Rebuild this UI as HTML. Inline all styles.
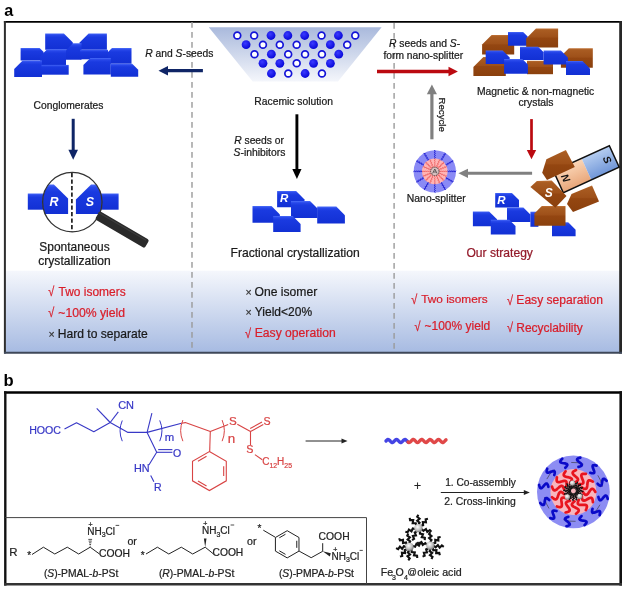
<!DOCTYPE html><html><head><meta charset="utf-8"><style>html,body{margin:0;padding:0;background:#fff;}svg{display:block;will-change:transform;}</style></head><body>
<svg width="626" height="591" viewBox="0 0 626 591" font-family="'Liberation Sans', sans-serif">
<defs>
<linearGradient id="band" x1="0" y1="0" x2="0" y2="1"><stop offset="0" stop-color="#f5f7fc"/><stop offset="1" stop-color="#a7bbe2"/></linearGradient>
<linearGradient id="funnel" x1="0" y1="0" x2="0" y2="1"><stop offset="0" stop-color="#a9b9dc"/><stop offset="1" stop-color="#f4f6fb"/></linearGradient>
<linearGradient id="gb" x1="0" y1="0" x2="0" y2="1"><stop offset="0" stop-color="#4a6cf8"/><stop offset="0.1" stop-color="#2848ea"/><stop offset="0.25" stop-color="#1a3ae0"/><stop offset="1" stop-color="#1230d4"/></linearGradient>
<linearGradient id="gr" x1="0" y1="0" x2="0" y2="1"><stop offset="0" stop-color="#c07236"/><stop offset="0.08" stop-color="#a95c22"/><stop offset="0.45" stop-color="#9e5019"/><stop offset="0.5" stop-color="#944611"/><stop offset="1" stop-color="#8a400d"/></linearGradient>
<radialGradient id="ball" cx="0.4" cy="0.35" r="0.65"><stop offset="0" stop-color="#3a3aff"/><stop offset="1" stop-color="#0808d8"/></radialGradient>
<radialGradient id="gball" cx="0.4" cy="0.35" r="0.7"><stop offset="0" stop-color="#ffffff"/><stop offset="0.6" stop-color="#bbbbbb"/><stop offset="1" stop-color="#6a6a6a"/></radialGradient>
<linearGradient id="handle" x1="0" y1="0" x2="0" y2="1"><stop offset="0" stop-color="#444"/><stop offset="1" stop-color="#111"/></linearGradient>
<linearGradient id="magN" x1="0" y1="0" x2="0" y2="1"><stop offset="0" stop-color="#fbd7b8"/><stop offset="1" stop-color="#e8a67a"/></linearGradient>
<linearGradient id="magS" x1="0" y1="0" x2="0" y2="1"><stop offset="0" stop-color="#b5cdf0"/><stop offset="1" stop-color="#7096d8"/></linearGradient>
</defs>
<text x="4.3" y="15.5" font-size="16.2" font-weight="bold" fill="#000">a</text>
<rect x="5.5" y="270.7" width="614" height="81.5" fill="url(#band)"/>
<line x1="3.9" y1="21.9" x2="622" y2="21.9" stroke="#000" stroke-width="1.7"/>
<line x1="4.9" y1="21" x2="4.9" y2="353.6" stroke="#2e2e2e" stroke-width="2"/>
<line x1="620.6" y1="21" x2="620.6" y2="353.6" stroke="#262626" stroke-width="2.8"/>
<line x1="4" y1="352.7" x2="622" y2="352.7" stroke="#3e4759" stroke-width="1.9"/>
<line x1="192" y1="22" x2="192" y2="352" stroke="#9a9a9a" stroke-width="1.4" stroke-dasharray="5.7 4.3"/>
<line x1="394.1" y1="23" x2="394.1" y2="352" stroke="#9a9a9a" stroke-width="1.4" stroke-dasharray="5.7 4.3"/>
<text x="3.6" y="385.6" font-size="16.6" font-weight="bold" fill="#000">b</text>
<line x1="4" y1="392.5" x2="622" y2="392.5" stroke="#000" stroke-width="2.4"/>
<line x1="5.3" y1="391.3" x2="5.3" y2="585.6" stroke="#111" stroke-width="2.4"/>
<line x1="620.7" y1="391.3" x2="620.7" y2="585.6" stroke="#111" stroke-width="2.6"/>
<line x1="4" y1="584.3" x2="622" y2="584.3" stroke="#333" stroke-width="2.6"/>
<polyline points="5.2,517.6 366.5,517.6 366.5,584" fill="none" stroke="#444" stroke-width="1"/>
<text x="145.28" y="56.90" font-size="10.31" font-weight="normal" font-style="normal" fill="#1a1a1a" stroke="#1a1a1a" stroke-width="0.22" ><tspan font-weight="normal" font-style="italic">R</tspan><tspan font-weight="normal" font-style="normal"> and </tspan><tspan font-weight="normal" font-style="italic">S</tspan><tspan font-weight="normal" font-style="normal">-seeds</tspan></text>
<text x="33.58" y="108.80" font-size="10.31" font-weight="normal" font-style="normal" fill="#1a1a1a" stroke="#1a1a1a" stroke-width="0.22" >Conglomerates</text>
<text x="254.37" y="104.90" font-size="10.32" font-weight="normal" font-style="normal" fill="#1a1a1a" stroke="#1a1a1a" stroke-width="0.22" >Racemic solution</text>
<text x="388.97" y="46.50" font-size="10.34" font-weight="normal" font-style="normal" fill="#1a1a1a" stroke="#1a1a1a" stroke-width="0.22" ><tspan font-weight="normal" font-style="italic">R</tspan><tspan font-weight="normal" font-style="normal"> seeds and </tspan><tspan font-weight="normal" font-style="italic">S</tspan><tspan font-weight="normal" font-style="normal">-</tspan></text>
<text x="383.45" y="58.50" font-size="10.26" font-weight="normal" font-style="normal" fill="#1a1a1a" stroke="#1a1a1a" stroke-width="0.22" >form nano-splitter</text>
<text x="476.97" y="94.50" font-size="10.35" font-weight="normal" font-style="normal" fill="#1a1a1a" stroke="#1a1a1a" stroke-width="0.22" >Magnetic &amp; non-magnetic</text>
<text x="518.38" y="105.70" font-size="10.38" font-weight="normal" font-style="normal" fill="#1a1a1a" stroke="#1a1a1a" stroke-width="0.22" >crystals</text>
<text x="234.17" y="143.90" font-size="10.32" font-weight="normal" font-style="normal" fill="#1a1a1a" stroke="#1a1a1a" stroke-width="0.22" ><tspan font-weight="normal" font-style="italic">R</tspan><tspan font-weight="normal" font-style="normal"> seeds or</tspan></text>
<text x="233.53" y="155.60" font-size="10.37" font-weight="normal" font-style="normal" fill="#1a1a1a" stroke="#1a1a1a" stroke-width="0.22" ><tspan font-weight="normal" font-style="italic">S</tspan><tspan font-weight="normal" font-style="normal">-inhibitors</tspan></text>
<text x="406.87" y="202.00" font-size="10.38" font-weight="normal" font-style="normal" fill="#1a1a1a" stroke="#1a1a1a" stroke-width="0.22" >Nano-splitter</text>
<text x="39.36" y="250.70" font-size="11.95" font-weight="normal" font-style="normal" fill="#1a1a1a" stroke="#1a1a1a" stroke-width="0.22" >Spontaneous</text>
<text x="38.32" y="265.40" font-size="12.06" font-weight="normal" font-style="normal" fill="#1a1a1a" stroke="#1a1a1a" stroke-width="0.22" >crystallization</text>
<text x="230.53" y="257.20" font-size="12.11" font-weight="normal" font-style="normal" fill="#1a1a1a" stroke="#1a1a1a" stroke-width="0.22" >Fractional crystallization</text>
<text x="466.46" y="256.90" font-size="12.08" font-weight="normal" font-style="normal" fill="#931a2a" stroke="#931a2a" stroke-width="0.22" >Our strategy</text>
<text x="0" y="0" font-size="9.6" fill="#1a1a1a" transform="translate(439.2 97.6) rotate(90)" stroke="#1a1a1a" stroke-width="0.22">Recycle</text>
<text x="0" y="0" font-size="11" fill="#d91e2a" transform="translate(48.20 296.10) scale(1 1.2)" stroke="#d91e2a" stroke-width="0.22">√</text>
<text x="58.56" y="295.70" font-size="11.96" font-weight="normal" font-style="normal" fill="#d91e2a" stroke="#d91e2a" stroke-width="0.22" >Two isomers</text>
<text x="0" y="0" font-size="11" fill="#d91e2a" transform="translate(48.20 317.20) scale(1 1.2)" stroke="#d91e2a" stroke-width="0.22">√</text>
<text x="58.25" y="316.80" font-size="12.21" font-weight="normal" font-style="normal" fill="#d91e2a" stroke="#d91e2a" stroke-width="0.22" >~100% yield</text>
<text x="48.50" y="337.50" font-size="10.5" fill="#333" stroke="#333" stroke-width="0.22">×</text>
<text x="57.83" y="337.50" font-size="12.08" font-weight="normal" font-style="normal" fill="#1a1a1a" stroke="#1a1a1a" stroke-width="0.22" >Hard to separate</text>
<text x="245.40" y="295.70" font-size="10.5" fill="#333" stroke="#333" stroke-width="0.22">×</text>
<text x="254.55" y="295.70" font-size="12.13" font-weight="normal" font-style="normal" fill="#1a1a1a" stroke="#1a1a1a" stroke-width="0.22" >One isomer</text>
<text x="245.40" y="316.00" font-size="10.5" fill="#333" stroke="#333" stroke-width="0.22">×</text>
<text x="254.80" y="316.00" font-size="12.00" font-weight="normal" font-style="normal" fill="#1a1a1a" stroke="#1a1a1a" stroke-width="0.22" >Yield&lt;20%</text>
<text x="0" y="0" font-size="11" fill="#d91e2a" transform="translate(245.10 337.50) scale(1 1.2)" stroke="#d91e2a" stroke-width="0.22">√</text>
<text x="254.73" y="337.10" font-size="12.15" font-weight="normal" font-style="normal" fill="#d91e2a" stroke="#d91e2a" stroke-width="0.22" >Easy operation</text>
<text x="0" y="0" font-size="11" fill="#d91e2a" transform="translate(411.30 303.80) scale(1 1.2)" stroke="#d91e2a" stroke-width="0.22">√</text>
<text x="421.26" y="303.40" font-size="11.82" font-weight="normal" font-style="normal" fill="#d91e2a" stroke="#d91e2a" stroke-width="0.22" >Two isomers</text>
<text x="0" y="0" font-size="11" fill="#d91e2a" transform="translate(506.90 304.50) scale(1 1.2)" stroke="#d91e2a" stroke-width="0.22">√</text>
<text x="516.33" y="304.10" font-size="12.09" font-weight="normal" font-style="normal" fill="#d91e2a" stroke="#d91e2a" stroke-width="0.22" >Easy separation</text>
<text x="0" y="0" font-size="11" fill="#d91e2a" transform="translate(414.60 330.70) scale(1 1.2)" stroke="#d91e2a" stroke-width="0.22">√</text>
<text x="424.46" y="330.30" font-size="12.02" font-weight="normal" font-style="normal" fill="#d91e2a" stroke="#d91e2a" stroke-width="0.22" >~100% yield</text>
<text x="0" y="0" font-size="11" fill="#d91e2a" transform="translate(506.90 332.40) scale(1 1.2)" stroke="#d91e2a" stroke-width="0.22">√</text>
<text x="516.34" y="332.00" font-size="11.96" font-weight="normal" font-style="normal" fill="#d91e2a" stroke="#d91e2a" stroke-width="0.22" >Recyclability</text>
<polygon points="45.2,49.8 45.2,33.4 63.9,33.4 72.9,42.4 72.9,49.8" fill="url(#gb)"/>
<polygon points="79.6,49.8 79.6,42.4 88.6,33.4 106.9,33.4 106.9,49.8" fill="url(#gb)"/>
<polygon points="64.5,59.8 64.5,51.8 73.0,43.3 81.5,43.3 81.5,59.8" fill="url(#gb)"/>
<polygon points="20.6,60.4 20.6,48.1 39.6,48.1 43.6,52.1 43.6,60.4" fill="url(#gb)"/>
<polygon points="108.0,63.8 108.0,52.1 112.0,48.1 131.5,48.1 131.5,63.8" fill="url(#gb)"/>
<polygon points="40.2,64.9 40.2,56.3 47.2,49.3 66.0,49.3 66.0,64.9" fill="url(#gb)"/>
<polygon points="80.1,59.3 80.1,49.8 108.0,49.8 108.0,59.3" fill="url(#gb)"/>
<polygon points="83.4,74.4 83.4,65.0 90.4,58.0 110.8,58.0 110.8,74.4" fill="url(#gb)"/>
<polygon points="14.2,77.0 14.2,68.9 22.7,60.4 42.0,60.4 42.0,77.0" fill="url(#gb)"/>
<polygon points="41.5,74.7 41.5,64.9 68.7,64.9 68.7,74.7" fill="url(#gb)"/>
<polygon points="110.8,76.7 110.8,63.8 132.2,63.8 138.2,69.8 138.2,76.7" fill="url(#gb)"/>
<polygon points="208.8,27.2 381.6,27.2 338,81.5 252.7,81.5" fill="url(#funnel)"/>
<circle cx="237.30" cy="35.5" r="3.4" fill="#fff" stroke="#1414d8" stroke-width="1.7"/>
<circle cx="254.15" cy="35.5" r="3.4" fill="#fff" stroke="#1414d8" stroke-width="1.7"/>
<circle cx="271.00" cy="35.5" r="4.4" fill="url(#ball)"/>
<circle cx="287.85" cy="35.5" r="4.4" fill="url(#ball)"/>
<circle cx="304.70" cy="35.5" r="4.4" fill="url(#ball)"/>
<circle cx="321.55" cy="35.5" r="3.4" fill="#fff" stroke="#1414d8" stroke-width="1.7"/>
<circle cx="338.40" cy="35.5" r="4.4" fill="url(#ball)"/>
<circle cx="355.25" cy="35.5" r="3.4" fill="#fff" stroke="#1414d8" stroke-width="1.7"/>
<circle cx="246.10" cy="44.7" r="4.4" fill="url(#ball)"/>
<circle cx="262.95" cy="44.7" r="3.4" fill="#fff" stroke="#1414d8" stroke-width="1.7"/>
<circle cx="279.80" cy="44.7" r="3.4" fill="#fff" stroke="#1414d8" stroke-width="1.7"/>
<circle cx="296.65" cy="44.7" r="3.4" fill="#fff" stroke="#1414d8" stroke-width="1.7"/>
<circle cx="313.50" cy="44.7" r="4.4" fill="url(#ball)"/>
<circle cx="330.35" cy="44.7" r="4.4" fill="url(#ball)"/>
<circle cx="347.20" cy="44.7" r="3.4" fill="#fff" stroke="#1414d8" stroke-width="1.7"/>
<circle cx="254.50" cy="54.2" r="3.4" fill="#fff" stroke="#1414d8" stroke-width="1.7"/>
<circle cx="271.35" cy="54.2" r="4.4" fill="url(#ball)"/>
<circle cx="288.20" cy="54.2" r="3.4" fill="#fff" stroke="#1414d8" stroke-width="1.7"/>
<circle cx="305.05" cy="54.2" r="3.4" fill="#fff" stroke="#1414d8" stroke-width="1.7"/>
<circle cx="321.90" cy="54.2" r="3.4" fill="#fff" stroke="#1414d8" stroke-width="1.7"/>
<circle cx="338.75" cy="54.2" r="4.4" fill="url(#ball)"/>
<circle cx="263.00" cy="63.3" r="4.4" fill="url(#ball)"/>
<circle cx="279.85" cy="63.3" r="4.4" fill="url(#ball)"/>
<circle cx="296.70" cy="63.3" r="3.4" fill="#fff" stroke="#1414d8" stroke-width="1.7"/>
<circle cx="313.55" cy="63.3" r="4.4" fill="url(#ball)"/>
<circle cx="330.40" cy="63.3" r="4.4" fill="url(#ball)"/>
<circle cx="271.40" cy="73.5" r="4.4" fill="url(#ball)"/>
<circle cx="288.25" cy="73.5" r="3.4" fill="#fff" stroke="#1414d8" stroke-width="1.7"/>
<circle cx="305.10" cy="73.5" r="4.4" fill="url(#ball)"/>
<circle cx="321.95" cy="73.5" r="3.4" fill="#fff" stroke="#1414d8" stroke-width="1.7"/>
<polygon points="482.1,54.6 482.1,44.6 491.6,35.1 514.2,35.1 514.2,54.6" fill="url(#gr)"/>
<polygon points="508.0,45.7 508.0,31.9 523.1,31.9 527.6,36.4 527.6,45.7" fill="url(#gb)"/>
<polygon points="526.2,47.4 526.2,38.4 536.0,28.6 558.1,28.6 558.1,47.4" fill="url(#gr)"/>
<polygon points="560.9,67.8 560.9,56.3 568.9,48.3 592.8,48.3 592.8,67.8" fill="url(#gr)"/>
<polygon points="520.0,60.1 520.0,46.7 538.1,46.7 543.6,52.2 543.6,60.1" fill="url(#gb)"/>
<polygon points="473.4,75.9 473.4,66.9 483.4,56.9 505.8,56.9 505.8,75.9" fill="url(#gr)"/>
<polygon points="485.7,64.1 485.7,50.5 502.7,50.5 509.7,57.5 509.7,64.1" fill="url(#gb)"/>
<polygon points="527.0,74.2 527.0,60.8 553.0,60.8 553.0,74.2" fill="url(#gr)"/>
<polygon points="543.6,64.6 543.6,50.6 560.9,50.6 567.9,57.6 567.9,64.6" fill="url(#gb)"/>
<polygon points="504.1,73.7 504.1,59.1 522.4,59.1 527.9,64.6 527.9,73.7" fill="url(#gb)"/>
<polygon points="566.0,75.1 566.0,61.0 582.5,61.0 590.0,68.5 590.0,75.1" fill="url(#gb)"/>
<rect x="27.8" y="193.5" width="20" height="16.2" fill="url(#gb)"/>
<rect x="97" y="193.5" width="21.6" height="16.2" fill="url(#gb)"/>
<clipPath id="mag"><circle cx="72.3" cy="202.1" r="29.7"/></clipPath>
<circle cx="72.3" cy="202.1" r="29.7" fill="#fff"/>
<g clip-path="url(#mag)">
<polygon points="38.0,213.9 38.0,184.4 53.9,184.4 68.1,198.6 68.1,213.9" fill="url(#gb)"/>
<polygon points="75.9,213.9 75.9,199.6 91.1,184.4 105.9,184.4 105.9,213.9" fill="url(#gb)"/>
</g>
<text x="54" y="206.2" font-size="12.5" font-weight="bold" font-style="italic" fill="#fff" text-anchor="middle">R</text>
<text x="89.8" y="206.2" font-size="12.5" font-weight="bold" font-style="italic" fill="#fff" text-anchor="middle">S</text>
<line x1="71.9" y1="173" x2="71.9" y2="232" stroke="#111" stroke-width="1.6" stroke-dasharray="4.2 2.3"/>
<circle cx="72.3" cy="202.1" r="29.7" fill="none" stroke="#333" stroke-width="1.3"/>
<rect x="0" y="-4.75" width="57.5" height="9.5" rx="2" fill="#2a2a2a" transform="translate(97.3 215.2) rotate(30.3)"/>
<line x1="98.5" y1="212.6" x2="146" y2="240.3" stroke="#3c3c3c" stroke-width="1.2"/>
<polygon points="277.1,207.2 277.1,191.0 296.1,191.0 304.5,199.4 304.5,207.2" fill="url(#gb)"/>
<polygon points="291.0,218.1 291.0,201.1 310.0,201.1 317.5,208.6 317.5,218.1" fill="url(#gb)"/>
<polygon points="252.5,222.7 252.5,206.1 271.5,206.1 279.9,214.5 279.9,222.7" fill="url(#gb)"/>
<polygon points="317.2,223.4 317.2,206.6 336.3,206.6 344.9,215.2 344.9,223.4" fill="url(#gb)"/>
<polygon points="273.2,232.1 273.2,216.0 292.7,216.0 300.6,223.9 300.6,232.1" fill="url(#gb)"/>
<text x="280" y="201.8" font-size="11.5" font-weight="bold" font-style="italic" fill="#fff">R</text>
<polygon points="495.2,207.5 495.2,192.9 511.9,192.9 519.0,200.0 519.0,207.5" fill="url(#gb)"/>
<polygon points="507.0,221.9 507.0,207.5 523.4,207.5 530.4,214.5 530.4,221.9" fill="url(#gb)"/>
<polygon points="530.4,226.8 530.4,211.7 538.4,211.7 538.4,226.8" fill="url(#gb)"/>
<polygon points="472.9,226.3 472.9,211.4 489.1,211.4 497.0,219.3 497.0,226.3" fill="url(#gb)"/>
<polygon points="490.8,234.6 490.8,219.8 509.3,219.8 515.5,226.0 515.5,234.6" fill="url(#gb)"/>
<polygon points="552.0,236.3 552.0,222.3 568.2,222.3 575.6,229.7 575.6,236.3" fill="url(#gb)"/>
<text x="497.3" y="203.5" font-size="11.5" font-weight="bold" font-style="italic" fill="#fff">R</text>
<polygon points="534.4,225.8 534.4,213.5 541.8,206.1 565.5,206.1 565.5,225.8" fill="url(#gr)"/>
<polygon points="567,204 571.5,194 592,185.5 599,201.5 573,212" fill="url(#gr)"/>
<g transform="translate(558.4 181.9) rotate(-24.5)"><rect x="0" y="-11.85" width="30.8" height="23.7" fill="url(#magN)"/><rect x="30.8" y="-11.85" width="30.6" height="23.7" fill="url(#magS)"/><rect x="0" y="-11.85" width="61.4" height="23.7" fill="none" stroke="#111" stroke-width="1.5"/><text x="54" y="0" font-size="10.5" font-weight="bold" font-style="italic" fill="#111" text-anchor="middle" dominant-baseline="central" transform="rotate(90 54 0)">S</text><text x="8" y="0" font-size="10.5" font-weight="bold" font-style="italic" fill="#111" text-anchor="middle" dominant-baseline="central" transform="rotate(90 8.5 0)">N</text></g>
<polygon points="542.2,172.8 546.4,159.2 565.9,150 574.8,166.9 547,180" fill="url(#gr)"/>
<polygon points="530.4,187.1 536.9,181.1 551.7,180.5 566.5,196 555.3,207.8" fill="url(#gr)"/>
<text x="548.7" y="197.3" font-size="12" font-weight="bold" font-style="italic" fill="#fff" text-anchor="middle">S</text>
<circle cx="434.8" cy="171.4" r="21.2" fill="#8a8af5"/>
<circle cx="434.8" cy="171.4" r="12.8" fill="#ffb4b4"/>
<polyline points="434.10,158.60 435.50,157.55 434.10,156.50 435.50,155.45 434.10,154.40 435.50,153.35 434.10,152.30 435.50,151.25 434.10,150.20" fill="none" stroke="#2020d0" stroke-width="0.9"/>
<polyline points="440.59,159.96 442.33,159.76 441.64,158.15 443.38,157.94 442.69,156.33 444.43,156.12 443.74,154.51 445.48,154.30 444.79,152.69" fill="none" stroke="#2020d0" stroke-width="0.9"/>
<polyline points="445.54,164.39 447.14,165.08 447.35,163.34 448.96,164.03 449.17,162.29 450.78,162.98 450.99,161.24 452.60,161.93 452.81,160.19" fill="none" stroke="#2020d0" stroke-width="0.9"/>
<polyline points="447.60,170.70 448.65,172.10 449.70,170.70 450.75,172.10 451.80,170.70 452.85,172.10 453.90,170.70 454.95,172.10 456.00,170.70" fill="none" stroke="#2020d0" stroke-width="0.9"/>
<polyline points="446.24,177.19 446.44,178.93 448.05,178.24 448.26,179.98 449.87,179.29 450.08,181.03 451.69,180.34 451.90,182.08 453.51,181.39" fill="none" stroke="#2020d0" stroke-width="0.9"/>
<polyline points="441.81,182.14 441.12,183.74 442.86,183.95 442.17,185.56 443.91,185.77 443.22,187.38 444.96,187.59 444.27,189.20 446.01,189.41" fill="none" stroke="#2020d0" stroke-width="0.9"/>
<polyline points="435.50,184.20 434.10,185.25 435.50,186.30 434.10,187.35 435.50,188.40 434.10,189.45 435.50,190.50 434.10,191.55 435.50,192.60" fill="none" stroke="#2020d0" stroke-width="0.9"/>
<polyline points="429.01,182.84 427.27,183.04 427.96,184.65 426.22,184.86 426.91,186.47 425.17,186.68 425.86,188.29 424.12,188.50 424.81,190.11" fill="none" stroke="#2020d0" stroke-width="0.9"/>
<polyline points="424.06,178.41 422.46,177.72 422.25,179.46 420.64,178.77 420.43,180.51 418.82,179.82 418.61,181.56 417.00,180.87 416.79,182.61" fill="none" stroke="#2020d0" stroke-width="0.9"/>
<polyline points="422.00,172.10 420.95,170.70 419.90,172.10 418.85,170.70 417.80,172.10 416.75,170.70 415.70,172.10 414.65,170.70 413.60,172.10" fill="none" stroke="#2020d0" stroke-width="0.9"/>
<polyline points="423.36,165.61 423.16,163.87 421.55,164.56 421.34,162.82 419.73,163.51 419.52,161.77 417.91,162.46 417.70,160.72 416.09,161.41" fill="none" stroke="#2020d0" stroke-width="0.9"/>
<polyline points="427.79,160.66 428.48,159.06 426.74,158.85 427.43,157.24 425.69,157.03 426.38,155.42 424.64,155.21 425.33,153.60 423.59,153.39" fill="none" stroke="#2020d0" stroke-width="0.9"/>
<polyline points="439.00,170.80 440.07,172.00 441.15,170.80 442.23,172.00 443.30,170.80 444.38,172.00 445.45,170.80 446.53,172.00 447.60,170.80" fill="none" stroke="#e85050" stroke-width="0.7"/>
<polyline points="438.91,172.45 439.44,173.97 440.90,173.28 441.43,174.80 442.88,174.10 443.42,175.62 444.87,174.92 445.40,176.44 446.86,175.74" fill="none" stroke="#e85050" stroke-width="0.7"/>
<polyline points="438.19,173.95 438.11,175.55 439.71,175.47 439.63,177.07 441.23,176.99 441.15,178.59 442.75,178.51 442.67,180.12 444.28,180.03" fill="none" stroke="#e85050" stroke-width="0.7"/>
<polyline points="436.96,175.05 436.26,176.50 437.78,177.04 437.09,178.49 438.61,179.02 437.91,180.48 439.43,181.01 438.73,182.46 440.25,183.00" fill="none" stroke="#e85050" stroke-width="0.7"/>
<polyline points="435.40,175.60 434.20,176.68 435.40,177.75 434.20,178.83 435.40,179.90 434.20,180.97 435.40,182.05 434.20,183.12 435.40,184.20" fill="none" stroke="#e85050" stroke-width="0.7"/>
<polyline points="433.75,175.51 432.23,176.04 432.92,177.50 431.40,178.03 432.10,179.48 430.58,180.02 431.28,181.47 429.76,182.00 430.46,183.46" fill="none" stroke="#e85050" stroke-width="0.7"/>
<polyline points="432.25,174.79 430.65,174.71 430.73,176.31 429.13,176.23 429.21,177.83 427.61,177.75 427.69,179.35 426.08,179.27 426.17,180.88" fill="none" stroke="#e85050" stroke-width="0.7"/>
<polyline points="431.15,173.56 429.70,172.86 429.16,174.38 427.71,173.69 427.18,175.21 425.72,174.51 425.19,176.03 423.74,175.33 423.20,176.85" fill="none" stroke="#e85050" stroke-width="0.7"/>
<polyline points="430.60,172.00 429.53,170.80 428.45,172.00 427.38,170.80 426.30,172.00 425.23,170.80 424.15,172.00 423.07,170.80 422.00,172.00" fill="none" stroke="#e85050" stroke-width="0.7"/>
<polyline points="430.69,170.35 430.16,168.83 428.70,169.52 428.17,168.00 426.72,168.70 426.18,167.18 424.73,167.88 424.20,166.36 422.74,167.06" fill="none" stroke="#e85050" stroke-width="0.7"/>
<polyline points="431.41,168.85 431.49,167.25 429.89,167.33 429.97,165.73 428.37,165.81 428.45,164.21 426.85,164.29 426.93,162.68 425.32,162.77" fill="none" stroke="#e85050" stroke-width="0.7"/>
<polyline points="432.64,167.75 433.34,166.30 431.82,165.76 432.51,164.31 430.99,163.78 431.69,162.32 430.17,161.79 430.87,160.34 429.35,159.80" fill="none" stroke="#e85050" stroke-width="0.7"/>
<polyline points="434.20,167.20 435.40,166.12 434.20,165.05 435.40,163.97 434.20,162.90 435.40,161.83 434.20,160.75 435.40,159.68 434.20,158.60" fill="none" stroke="#e85050" stroke-width="0.7"/>
<polyline points="435.85,167.29 437.37,166.76 436.68,165.30 438.20,164.77 437.50,163.32 439.02,162.78 438.32,161.33 439.84,160.80 439.14,159.34" fill="none" stroke="#e85050" stroke-width="0.7"/>
<polyline points="437.35,168.01 438.95,168.09 438.87,166.49 440.47,166.57 440.39,164.97 441.99,165.05 441.91,163.45 443.52,163.53 443.43,161.92" fill="none" stroke="#e85050" stroke-width="0.7"/>
<polyline points="438.45,169.24 439.90,169.94 440.44,168.42 441.89,169.11 442.42,167.59 443.88,168.29 444.41,166.77 445.86,167.47 446.40,165.95" fill="none" stroke="#e85050" stroke-width="0.7"/>
<circle cx="434.8" cy="171.4" r="4.2" fill="#d8c0c0" stroke="#333" stroke-width="0.9" stroke-dasharray="1.2 0.8"/>
<path d="M432.6,173.4 L434.8,169.0 L437.0,173.4 M433.6,172.0 L436.0,172.0" fill="none" stroke="#444" stroke-width="0.8"/>
<line x1="202.90" y1="70.70" x2="167.50" y2="70.70" stroke="#0f2566" stroke-width="3.2"/>
<polygon points="158.50,70.70 168.00,65.95 168.00,75.45" fill="#0f2566"/>
<line x1="73.20" y1="118.80" x2="73.20" y2="150.30" stroke="#0f2566" stroke-width="3"/>
<polygon points="73.20,159.80 68.40,149.80 78.00,149.80" fill="#0f2566"/>
<line x1="296.90" y1="114.30" x2="296.90" y2="169.60" stroke="#000" stroke-width="2.9"/>
<polygon points="296.90,178.90 292.30,169.10 301.50,169.10" fill="#000"/>
<line x1="377.00" y1="71.50" x2="449.00" y2="71.50" stroke="#bb0a10" stroke-width="3.3"/>
<polygon points="457.90,71.50 448.50,76.25 448.50,66.75" fill="#bb0a10"/>
<line x1="531.50" y1="119.10" x2="531.50" y2="150.50" stroke="#bb0a10" stroke-width="2.7"/>
<polygon points="531.50,159.30 526.80,150.00 536.20,150.00" fill="#bb0a10"/>
<line x1="532.10" y1="173.30" x2="467.50" y2="173.30" stroke="#808080" stroke-width="3.0"/>
<polygon points="458.40,173.30 468.00,168.70 468.00,177.90" fill="#808080"/>
<line x1="431.90" y1="139.30" x2="431.90" y2="93.80" stroke="#808080" stroke-width="3.2"/>
<polygon points="431.90,84.40 436.95,94.30 426.85,94.30" fill="#808080"/>
<text x="29.15" y="433.70" font-size="10.61" font-weight="normal" font-style="normal" fill="#3838c6" stroke="#3838c6" stroke-width="0.22" >HOOC</text>
<polyline points="64.5,429.1 76.5,422.8 93.8,431.8 110.2,422.5 128,432.4 147.1,432.4 181.5,423.2" fill="none" stroke="#3838c6" stroke-width="1.1" stroke-linejoin="round"/>
<polyline points="110.2,422.5 96.7,408.4" fill="none" stroke="#3838c6" stroke-width="1.1" stroke-linejoin="round"/>
<polyline points="110.2,422.5 118.3,411.8" fill="none" stroke="#3838c6" stroke-width="1.1" stroke-linejoin="round"/>
<text x="118.15" y="408.80" font-size="10.99" font-weight="normal" font-style="normal" fill="#3838c6" stroke="#3838c6" stroke-width="0.22" >CN</text>
<path d="M122.28,420.5 Q117.80,430.85 122.28,441.2" fill="none" stroke="#3838c6" stroke-width="1"/>
<path d="M159.72,420.4 Q164.20,430.80 159.72,441.2" fill="none" stroke="#3838c6" stroke-width="1"/>
<text x="164.76" y="441.20" font-size="11.35" font-weight="normal" font-style="normal" fill="#3838c6" stroke="#3838c6" stroke-width="0.22" >m</text>
<polyline points="147.1,432.4 151.9,413.2" fill="none" stroke="#3838c6" stroke-width="1.1" stroke-linejoin="round"/>
<polyline points="147.1,432.4 156.7,452.3 148.9,465" fill="none" stroke="#3838c6" stroke-width="1.1" stroke-linejoin="round"/>
<polyline points="156.7,452.3 172.4,452.3" fill="none" stroke="#3838c6" stroke-width="1.1" stroke-linejoin="round"/>
<polyline points="158.2,449.6 172.4,449.6" fill="none" stroke="#3838c6" stroke-width="1.1" stroke-linejoin="round"/>
<text x="173.03" y="456.70" font-size="10.51" font-weight="normal" font-style="normal" fill="#3838c6" stroke="#3838c6" stroke-width="0.22" >O</text>
<text x="133.93" y="471.50" font-size="10.86" font-weight="normal" font-style="normal" fill="#3838c6" stroke="#3838c6" stroke-width="0.22" >HN</text>
<polyline points="150.7,475.4 153.9,481.8" fill="none" stroke="#3838c6" stroke-width="1.1" stroke-linejoin="round"/>
<text x="153.95" y="491.00" font-size="10.59" font-weight="normal" font-style="normal" fill="#3838c6" stroke="#3838c6" stroke-width="0.22" >R</text>
<polyline points="181.5,423.2 185.3,422.6 210.3,431.6 228.2,424.6" fill="none" stroke="#d84444" stroke-width="1.1" stroke-linejoin="round"/>
<path d="M182.88,420.1 Q178.40,430.65 182.88,441.2" fill="none" stroke="#d84444" stroke-width="1"/>
<path d="M222.12,420.1 Q226.60,430.65 222.12,441.2" fill="none" stroke="#d84444" stroke-width="1"/>
<text x="227.63" y="442.60" font-size="13.41" font-weight="normal" font-style="normal" fill="#d84444" stroke="#d84444" stroke-width="0.22" >n</text>
<text x="228.88" y="424.50" font-size="11.65" font-weight="normal" font-style="normal" fill="#d84444" stroke="#d84444" stroke-width="0.22" >S</text>
<polyline points="237.3,424.2 250.5,431.6 263.3,424.6" fill="none" stroke="#d84444" stroke-width="1.1" stroke-linejoin="round"/>
<polyline points="250.2,428.6 262,422" fill="none" stroke="#d84444" stroke-width="1.1" stroke-linejoin="round"/>
<text x="263.42" y="424.90" font-size="10.61" font-weight="normal" font-style="normal" fill="#d84444" stroke="#d84444" stroke-width="0.22" >S</text>
<polyline points="250.5,431.6 250.5,445" fill="none" stroke="#d84444" stroke-width="1.1" stroke-linejoin="round"/>
<text x="246.21" y="453.40" font-size="10.78" font-weight="normal" font-style="normal" fill="#d84444" stroke="#d84444" stroke-width="0.22" >S</text>
<polyline points="254.9,454.6 262.3,459.7" fill="none" stroke="#d84444" stroke-width="1.1" stroke-linejoin="round"/>
<text x="262.2" y="464.5" font-size="10" fill="#d84444" stroke="#d84444" stroke-width="0.22">C<tspan font-size="6.9" dy="3.3">12</tspan><tspan dy="-3.3">H</tspan><tspan font-size="6.9" dy="3.3">25</tspan></text>
<polyline points="210.3,431.6 209.7,451.6" fill="none" stroke="#d84444" stroke-width="1.1" stroke-linejoin="round"/>
<polygon points="209.40,451.60 226.29,461.35 226.29,480.85 209.40,490.60 192.51,480.85 192.51,461.35" fill="none" stroke="#d84444" stroke-width="1.1"/>
<line x1="197.97" y1="461.20" x2="206.54" y2="456.25" stroke="#d84444" stroke-width="1.1"/>
<line x1="223.69" y1="466.15" x2="223.69" y2="476.05" stroke="#d84444" stroke-width="1.1"/>
<line x1="206.54" y1="485.95" x2="197.97" y2="481.00" stroke="#d84444" stroke-width="1.1"/>
<line x1="305.6" y1="441" x2="343" y2="441" stroke="#222" stroke-width="1"/>
<polygon points="347.5,441 341.5,438.6 341.5,443.4" fill="#222"/>
<polyline points="386.00,441.00 386.50,440.45 387.00,439.98 387.50,439.65 388.00,439.50 388.50,439.57 389.00,439.83 389.50,440.25 390.00,440.78 390.50,441.33 391.00,441.84 391.50,442.24 392.00,442.46 392.50,442.48 393.00,442.30 393.50,441.94 394.00,441.44 394.50,440.89 395.00,440.35 395.50,439.90 396.00,439.60 396.50,439.50 397.00,439.60 397.50,439.90 398.00,440.35 398.50,440.89 399.00,441.44 399.50,441.94 400.00,442.30 400.50,442.48 401.00,442.46 401.50,442.24 402.00,441.84 402.50,441.33 403.00,440.78 403.50,440.25 404.00,439.83 404.50,439.57 405.00,439.50 405.50,439.65 406.00,439.98 406.50,440.45 407.00,441.00 407.50,441.55 408.00,442.02" fill="none" stroke="#4444e4" stroke-width="3.4" stroke-linecap="round"/>
<polyline points="408.00,442.02 408.50,442.35 409.00,442.50 409.50,442.43 410.00,442.17 410.50,441.75 411.00,441.22 411.50,440.67 412.00,440.16 412.50,439.76 413.00,439.54 413.50,439.52 414.00,439.70 414.50,440.06 415.00,440.56 415.50,441.11 416.00,441.65 416.50,442.10 417.00,442.40 417.50,442.50 418.00,442.40 418.50,442.10 419.00,441.65 419.50,441.11 420.00,440.56 420.50,440.06 421.00,439.70 421.50,439.52 422.00,439.54 422.50,439.76 423.00,440.16 423.50,440.67 424.00,441.22 424.50,441.75 425.00,442.17 425.50,442.43 426.00,442.50 426.50,442.35 427.00,442.02 427.50,441.55 428.00,441.00 428.50,440.45 429.00,439.98 429.50,439.65 430.00,439.50 430.50,439.57 431.00,439.83 431.50,440.25 432.00,440.78 432.50,441.33 433.00,441.84 433.50,442.24 434.00,442.46 434.50,442.48 435.00,442.30 435.50,441.94 436.00,441.44 436.50,440.89 437.00,440.35 437.50,439.90 438.00,439.60 438.50,439.50 439.00,439.60 439.50,439.90 440.00,440.35 440.50,440.89 441.00,441.44 441.50,441.94 442.00,442.30 442.50,442.48 443.00,442.46 443.50,442.24 444.00,441.84 444.50,441.33 445.00,440.78 445.50,440.25 446.00,439.83" fill="none" stroke="#e04848" stroke-width="3.4" stroke-linecap="round"/>
<text x="417.6" y="490" font-size="12" fill="#222" text-anchor="middle" stroke="#222" stroke-width="0.22">+</text>
<text x="445.13" y="485.80" font-size="10.20" font-weight="normal" font-style="normal" fill="#222" stroke="#222" stroke-width="0.22" >1. Co-assembly</text>
<text x="444.18" y="504.50" font-size="10.38" font-weight="normal" font-style="normal" fill="#222" stroke="#222" stroke-width="0.22" >2. Cross-linking</text>
<line x1="440.8" y1="492.5" x2="525" y2="492.5" stroke="#222" stroke-width="1"/>
<polygon points="529.8,492.5 523.8,490.1 523.8,494.9" fill="#222"/>
<polyline points="418.40,524.70 419.60,522.70 417.20,520.70 419.60,518.70 417.20,516.70 418.40,514.70" fill="none" stroke="#111" stroke-width="2.1" stroke-linejoin="miter"/>
<polyline points="416.15,525.52 415.78,523.22 412.66,523.23 413.21,520.15 410.09,520.16 409.72,517.86" fill="none" stroke="#111" stroke-width="2.1" stroke-linejoin="miter"/>
<polyline points="420.87,525.73 423.14,525.16 422.85,522.05 425.97,522.33 425.68,519.22 427.95,518.65" fill="none" stroke="#111" stroke-width="2.1" stroke-linejoin="miter"/>
<polyline points="415.02,529.11 412.78,528.46 411.47,531.30 408.91,529.50 407.60,532.34 405.36,531.69" fill="none" stroke="#111" stroke-width="2.1" stroke-linejoin="miter"/>
<polyline points="416.76,531.29 414.76,532.49 415.94,535.39 412.88,536.02 414.06,538.92 412.06,540.12" fill="none" stroke="#111" stroke-width="2.1" stroke-linejoin="miter"/>
<polyline points="420.04,531.29 419.92,533.62 422.98,534.26 421.80,537.15 424.86,537.79 424.74,540.12" fill="none" stroke="#111" stroke-width="2.1" stroke-linejoin="miter"/>
<polyline points="421.78,529.11 423.40,530.78 425.96,528.98 427.27,531.82 429.82,530.02 431.44,531.69" fill="none" stroke="#111" stroke-width="2.1" stroke-linejoin="miter"/>
<polyline points="409.19,543.41 410.22,541.32 407.65,539.53 409.87,537.33 407.30,535.55 408.32,533.45" fill="none" stroke="#111" stroke-width="2.1" stroke-linejoin="miter"/>
<polyline points="406.82,544.65 406.06,542.45 402.98,543.00 402.99,539.87 399.92,540.43 399.16,538.22" fill="none" stroke="#111" stroke-width="2.1" stroke-linejoin="miter"/>
<polyline points="406.01,547.21 403.92,546.18 402.13,548.75 399.93,546.53 398.15,549.10 396.05,548.08" fill="none" stroke="#111" stroke-width="2.1" stroke-linejoin="miter"/>
<polyline points="407.03,549.37 404.76,549.94 405.05,553.05 401.93,552.77 402.22,555.88 399.95,556.45" fill="none" stroke="#111" stroke-width="2.1" stroke-linejoin="miter"/>
<polyline points="409.19,550.39 407.83,552.27 410.04,554.48 407.48,556.26 409.69,558.46 408.32,560.35" fill="none" stroke="#111" stroke-width="2.1" stroke-linejoin="miter"/>
<polyline points="411.51,549.77 411.67,552.09 414.78,552.36 413.97,555.37 417.08,555.63 417.24,557.96" fill="none" stroke="#111" stroke-width="2.1" stroke-linejoin="miter"/>
<polyline points="412.88,545.99 415.12,546.64 416.43,543.80 418.99,545.60 420.30,542.76 422.54,543.41" fill="none" stroke="#111" stroke-width="2.1" stroke-linejoin="miter"/>
<polyline points="432.98,543.35 435.28,542.98 435.27,539.86 438.35,540.41 438.34,537.29 440.64,536.92" fill="none" stroke="#111" stroke-width="2.1" stroke-linejoin="miter"/>
<polyline points="430.30,542.10 431.50,540.10 429.10,538.10 431.50,536.10 429.10,534.10 430.30,532.10" fill="none" stroke="#111" stroke-width="2.1" stroke-linejoin="miter"/>
<polyline points="433.79,545.91 435.67,547.27 437.88,545.06 439.66,547.62 441.86,545.41 443.75,546.78" fill="none" stroke="#111" stroke-width="2.1" stroke-linejoin="miter"/>
<polyline points="432.77,548.07 433.34,550.34 436.45,550.05 436.17,553.17 439.28,552.88 439.85,555.15" fill="none" stroke="#111" stroke-width="2.1" stroke-linejoin="miter"/>
<polyline points="430.61,549.09 429.58,551.18 432.15,552.97 429.93,555.17 432.50,556.95 431.48,559.05" fill="none" stroke="#111" stroke-width="2.1" stroke-linejoin="miter"/>
<polyline points="428.29,548.47 426.16,549.42 426.98,552.43 423.87,552.69 424.69,555.71 422.56,556.66" fill="none" stroke="#111" stroke-width="2.1" stroke-linejoin="miter"/>
<polyline points="426.92,544.69 425.30,543.02 422.74,544.82 421.43,541.98 418.88,543.78 417.26,542.11" fill="none" stroke="#111" stroke-width="2.1" stroke-linejoin="miter"/>
<circle cx="418.4" cy="528.2" r="4.1" fill="url(#gball)"/>
<circle cx="409.5" cy="546.9" r="4.1" fill="url(#gball)"/>
<circle cx="430.3" cy="545.6" r="4.1" fill="url(#gball)"/>
<text x="380.7" y="575.6" font-size="10.6" fill="#222" stroke="#222" stroke-width="0.22">Fe</text>
<text x="391.9" y="579.6" font-size="7" fill="#222" stroke="#222" stroke-width="0.22">3</text>
<text x="395.6" y="575.6" font-size="10.6" fill="#222" stroke="#222" stroke-width="0.22">O</text>
<text x="403.9" y="579.6" font-size="7" fill="#222" stroke="#222" stroke-width="0.22">4</text>
<text x="407.6" y="575.2" font-size="9.2" fill="#222" stroke="#222" stroke-width="0.22">@</text>
<text x="417.3" y="575.6" font-size="10.65" fill="#222" stroke="#222" stroke-width="0.22">oleic acid</text>
<circle cx="573.4" cy="491.9" r="36.4" fill="#8d8df3"/>
<circle cx="573.4" cy="491.9" r="23" fill="#f8b6be"/>
<path d="M599.96,504.73 A29.5,29.5 0 0 1 592.45,514.43" fill="none" stroke="#333" stroke-width="0.6"/>
<path d="M575.57,521.32 A29.5,29.5 0 0 1 563.42,519.66" fill="none" stroke="#333" stroke-width="0.6"/>
<path d="M549.01,508.49 A29.5,29.5 0 0 1 544.37,497.13" fill="none" stroke="#333" stroke-width="0.6"/>
<path d="M546.84,479.07 A29.5,29.5 0 0 1 554.35,469.37" fill="none" stroke="#333" stroke-width="0.6"/>
<path d="M571.23,462.48 A29.5,29.5 0 0 1 583.38,464.14" fill="none" stroke="#333" stroke-width="0.6"/>
<path d="M597.79,475.31 A29.5,29.5 0 0 1 602.43,486.67" fill="none" stroke="#333" stroke-width="0.6"/>
<polyline points="598.39,496.97 598.75,498.17 599.15,499.21 599.61,499.95 600.14,500.28 600.77,500.18 601.48,499.68 602.24,498.88 603.05,497.91 603.85,496.94 604.62,496.14 605.33,495.64 605.95,495.54 606.49,495.87 606.95,496.61 607.34,497.65 607.70,498.85" fill="none" stroke="#0a0ac8" stroke-width="2.7" stroke-linecap="round" stroke-linejoin="round"/>
<polyline points="592.51,508.78 592.22,510.01 592.04,511.11 592.07,511.97 592.37,512.53 592.96,512.76 593.82,512.68 594.89,512.37 596.07,511.93 597.25,511.49 598.32,511.18 599.18,511.10 599.77,511.33 600.07,511.89 600.10,512.75 599.92,513.85 599.63,515.07" fill="none" stroke="#0a0ac8" stroke-width="2.7" stroke-linecap="round" stroke-linejoin="round"/>
<polyline points="581.51,516.08 580.65,516.99 579.94,517.85 579.53,518.62 579.51,519.25 579.91,519.74 580.70,520.11 581.78,520.37 583.02,520.58 584.26,520.79 585.34,521.05 586.13,521.42 586.52,521.91 586.50,522.54 586.10,523.31 585.39,524.17 584.53,525.08" fill="none" stroke="#0a0ac8" stroke-width="2.7" stroke-linecap="round" stroke-linejoin="round"/>
<polyline points="568.33,516.89 567.13,517.25 566.09,517.65 565.35,518.11 565.02,518.64 565.12,519.27 565.62,519.98 566.42,520.74 567.39,521.55 568.36,522.35 569.16,523.12 569.66,523.83 569.76,524.45 569.43,524.99 568.69,525.45 567.65,525.84 566.45,526.20" fill="none" stroke="#0a0ac8" stroke-width="2.7" stroke-linecap="round" stroke-linejoin="round"/>
<polyline points="556.52,511.01 555.29,510.72 554.19,510.54 553.33,510.57 552.77,510.87 552.54,511.46 552.62,512.32 552.93,513.39 553.37,514.57 553.81,515.75 554.12,516.82 554.20,517.68 553.97,518.27 553.41,518.57 552.55,518.60 551.45,518.42 550.23,518.13" fill="none" stroke="#0a0ac8" stroke-width="2.7" stroke-linecap="round" stroke-linejoin="round"/>
<polyline points="549.22,500.01 548.31,499.15 547.45,498.44 546.68,498.03 546.05,498.01 545.56,498.41 545.19,499.20 544.93,500.28 544.72,501.52 544.51,502.76 544.25,503.84 543.88,504.63 543.39,505.02 542.76,505.00 541.99,504.60 541.13,503.89 540.22,503.03" fill="none" stroke="#0a0ac8" stroke-width="2.7" stroke-linecap="round" stroke-linejoin="round"/>
<polyline points="548.41,486.83 548.05,485.63 547.65,484.59 547.19,483.85 546.66,483.52 546.03,483.62 545.32,484.12 544.56,484.92 543.75,485.89 542.95,486.86 542.18,487.66 541.47,488.16 540.85,488.26 540.31,487.93 539.85,487.19 539.46,486.15 539.10,484.95" fill="none" stroke="#0a0ac8" stroke-width="2.7" stroke-linecap="round" stroke-linejoin="round"/>
<polyline points="554.29,475.02 554.58,473.79 554.76,472.69 554.73,471.83 554.43,471.27 553.84,471.04 552.98,471.12 551.91,471.43 550.73,471.87 549.55,472.31 548.48,472.62 547.62,472.70 547.03,472.47 546.73,471.91 546.70,471.05 546.88,469.95 547.17,468.73" fill="none" stroke="#0a0ac8" stroke-width="2.7" stroke-linecap="round" stroke-linejoin="round"/>
<polyline points="565.29,467.72 566.15,466.81 566.86,465.95 567.27,465.18 567.29,464.55 566.89,464.06 566.10,463.69 565.02,463.43 563.78,463.22 562.54,463.01 561.46,462.75 560.67,462.38 560.28,461.89 560.30,461.26 560.70,460.49 561.41,459.63 562.27,458.72" fill="none" stroke="#0a0ac8" stroke-width="2.7" stroke-linecap="round" stroke-linejoin="round"/>
<polyline points="578.47,466.91 579.67,466.55 580.71,466.15 581.45,465.69 581.78,465.16 581.68,464.53 581.18,463.82 580.38,463.06 579.41,462.25 578.44,461.45 577.64,460.68 577.14,459.97 577.04,459.35 577.37,458.81 578.11,458.35 579.15,457.96 580.35,457.60" fill="none" stroke="#0a0ac8" stroke-width="2.7" stroke-linecap="round" stroke-linejoin="round"/>
<polyline points="590.28,472.79 591.51,473.08 592.61,473.26 593.47,473.23 594.03,472.93 594.26,472.34 594.18,471.48 593.87,470.41 593.43,469.23 592.99,468.05 592.68,466.98 592.60,466.12 592.83,465.53 593.39,465.23 594.25,465.20 595.35,465.38 596.57,465.67" fill="none" stroke="#0a0ac8" stroke-width="2.7" stroke-linecap="round" stroke-linejoin="round"/>
<polyline points="597.58,483.79 598.49,484.65 599.35,485.36 600.12,485.77 600.75,485.79 601.24,485.39 601.61,484.60 601.87,483.52 602.08,482.28 602.29,481.04 602.55,479.96 602.92,479.17 603.41,478.78 604.04,478.80 604.81,479.20 605.67,479.91 606.58,480.77" fill="none" stroke="#0a0ac8" stroke-width="2.7" stroke-linecap="round" stroke-linejoin="round"/>
<polyline points="582.90,491.90 583.68,493.09 584.46,494.09 585.24,494.76 586.02,495.00 586.81,494.76 587.59,494.09 588.37,493.09 589.15,491.90 589.93,490.71 590.71,489.71 591.49,489.04 592.27,488.80 593.06,489.04 593.84,489.71 594.62,490.71 595.40,491.90" fill="none" stroke="#e8141e" stroke-width="2.7" stroke-linecap="round" stroke-linejoin="round"/>
<polyline points="581.81,496.31 581.95,497.73 582.18,498.98 582.56,499.94 583.14,500.51 583.94,500.67 584.94,500.43 586.10,499.91 587.35,499.22 588.59,498.53 589.75,498.00 590.75,497.77 591.55,497.93 592.14,498.50 592.52,499.46 592.74,500.71 592.88,502.12" fill="none" stroke="#e8141e" stroke-width="2.7" stroke-linecap="round" stroke-linejoin="round"/>
<polyline points="578.80,499.72 578.26,501.04 577.88,502.25 577.77,503.27 578.02,504.05 578.66,504.56 579.66,504.82 580.93,504.89 582.35,504.86 583.77,504.83 585.04,504.90 586.04,505.16 586.67,505.67 586.92,506.45 586.81,507.47 586.43,508.69 585.90,510.01" fill="none" stroke="#e8141e" stroke-width="2.7" stroke-linecap="round" stroke-linejoin="round"/>
<polyline points="574.55,501.33 573.46,502.25 572.56,503.15 571.98,504.00 571.84,504.81 572.17,505.55 572.93,506.25 574.03,506.90 575.30,507.54 576.57,508.17 577.66,508.82 578.42,509.52 578.75,510.26 578.61,511.07 578.04,511.92 577.14,512.82 576.05,513.74" fill="none" stroke="#e8141e" stroke-width="2.7" stroke-linecap="round" stroke-linejoin="round"/>
<polyline points="570.03,500.78 568.64,501.09 567.43,501.47 566.52,501.96 566.02,502.61 565.97,503.42 566.32,504.39 566.98,505.48 567.81,506.63 568.65,507.78 569.31,508.86 569.66,509.83 569.61,510.65 569.11,511.29 568.20,511.79 566.98,512.16 565.60,512.47" fill="none" stroke="#e8141e" stroke-width="2.7" stroke-linecap="round" stroke-linejoin="round"/>
<polyline points="566.29,498.20 564.92,497.83 563.67,497.60 562.64,497.61 561.89,497.95 561.47,498.65 561.33,499.67 561.41,500.94 561.61,502.34 561.81,503.75 561.89,505.02 561.76,506.04 561.33,506.74 560.59,507.08 559.56,507.09 558.30,506.86 556.93,506.49" fill="none" stroke="#e8141e" stroke-width="2.7" stroke-linecap="round" stroke-linejoin="round"/>
<polyline points="564.18,494.17 563.13,493.21 562.13,492.42 561.22,491.95 560.40,491.91 559.70,492.33 559.10,493.17 558.58,494.33 558.11,495.67 557.63,497.01 557.12,498.17 556.52,499.01 555.82,499.43 555.00,499.38 554.08,498.92 553.08,498.13 552.04,497.16" fill="none" stroke="#e8141e" stroke-width="2.7" stroke-linecap="round" stroke-linejoin="round"/>
<polyline points="564.18,489.63 563.70,488.29 563.18,487.12 562.59,486.28 561.88,485.87 561.07,485.91 560.15,486.38 559.15,487.17 558.11,488.13 557.07,489.10 556.07,489.89 555.15,490.35 554.33,490.39 553.63,489.98 553.03,489.14 552.51,487.97 552.04,486.64" fill="none" stroke="#e8141e" stroke-width="2.7" stroke-linecap="round" stroke-linejoin="round"/>
<polyline points="566.29,485.60 566.49,484.19 566.57,482.92 566.43,481.90 566.01,481.21 565.26,480.87 564.23,480.85 562.98,481.09 561.61,481.46 560.24,481.83 558.99,482.06 557.96,482.05 557.22,481.70 556.79,481.01 556.65,479.99 556.73,478.72 556.93,477.31" fill="none" stroke="#e8141e" stroke-width="2.7" stroke-linecap="round" stroke-linejoin="round"/>
<polyline points="570.03,483.02 570.86,481.87 571.53,480.78 571.88,479.81 571.82,479.00 571.32,478.35 570.42,477.86 569.20,477.48 567.81,477.17 566.43,476.86 565.21,476.49 564.31,476.00 563.81,475.35 563.75,474.54 564.10,473.57 564.77,472.48 565.60,471.33" fill="none" stroke="#e8141e" stroke-width="2.7" stroke-linecap="round" stroke-linejoin="round"/>
<polyline points="574.55,482.47 575.82,481.84 576.91,481.18 577.67,480.49 578.00,479.74 577.86,478.94 577.29,478.08 576.38,477.18 575.30,476.26 574.21,475.35 573.31,474.45 572.74,473.59 572.60,472.79 572.93,472.04 573.69,471.35 574.78,470.69 576.05,470.06" fill="none" stroke="#e8141e" stroke-width="2.7" stroke-linecap="round" stroke-linejoin="round"/>
<polyline points="578.80,484.08 580.22,484.11 581.49,484.04 582.49,483.78 583.12,483.27 583.37,482.49 583.26,481.47 582.88,480.25 582.35,478.94 581.81,477.62 581.43,476.41 581.32,475.38 581.57,474.61 582.21,474.10 583.21,473.84 584.48,473.76 585.90,473.79" fill="none" stroke="#e8141e" stroke-width="2.7" stroke-linecap="round" stroke-linejoin="round"/>
<polyline points="581.81,487.49 583.05,488.17 584.21,488.70 585.22,488.93 586.02,488.78 586.60,488.21 586.98,487.25 587.21,485.99 587.35,484.58 587.49,483.17 587.71,481.91 588.09,480.96 588.67,480.38 589.47,480.23 590.48,480.46 591.64,480.99 592.88,481.68" fill="none" stroke="#e8141e" stroke-width="2.7" stroke-linecap="round" stroke-linejoin="round"/>
<polyline points="575.90,490.90 577.15,491.70 578.40,490.10 579.65,491.70 580.90,490.10 582.15,491.70 583.40,490.90" fill="none" stroke="#111" stroke-width="1.3" stroke-linejoin="miter"/>
<polyline points="575.71,491.86 576.56,493.07 578.33,492.07 578.87,494.03 580.64,493.03 581.18,494.99 582.64,494.73" fill="none" stroke="#111" stroke-width="1.3" stroke-linejoin="miter"/>
<polyline points="575.17,492.67 575.49,494.12 577.50,493.87 577.25,495.89 579.27,495.64 579.02,497.65 580.47,497.97" fill="none" stroke="#111" stroke-width="1.3" stroke-linejoin="miter"/>
<polyline points="574.36,493.21 574.10,494.67 576.05,495.21 575.05,496.98 577.01,497.52 576.01,499.29 577.23,500.14" fill="none" stroke="#111" stroke-width="1.3" stroke-linejoin="miter"/>
<polyline points="573.40,493.40 572.60,494.65 574.20,495.90 572.60,497.15 574.20,498.40 572.60,499.65 573.40,500.90" fill="none" stroke="#111" stroke-width="1.3" stroke-linejoin="miter"/>
<polyline points="572.44,493.21 571.23,494.06 572.23,495.83 570.27,496.37 571.27,498.14 569.31,498.68 569.57,500.14" fill="none" stroke="#111" stroke-width="1.3" stroke-linejoin="miter"/>
<polyline points="571.63,492.67 570.18,492.99 570.43,495.00 568.41,494.75 568.66,496.77 566.65,496.52 566.33,497.97" fill="none" stroke="#111" stroke-width="1.3" stroke-linejoin="miter"/>
<polyline points="571.09,491.86 569.63,491.60 569.09,493.55 567.32,492.55 566.78,494.51 565.01,493.51 564.16,494.73" fill="none" stroke="#111" stroke-width="1.3" stroke-linejoin="miter"/>
<polyline points="570.90,490.90 569.65,490.10 568.40,491.70 567.15,490.10 565.90,491.70 564.65,490.10 563.40,490.90" fill="none" stroke="#111" stroke-width="1.3" stroke-linejoin="miter"/>
<polyline points="571.09,489.94 570.24,488.73 568.47,489.73 567.93,487.77 566.16,488.77 565.62,486.81 564.16,487.07" fill="none" stroke="#111" stroke-width="1.3" stroke-linejoin="miter"/>
<polyline points="571.63,489.13 571.31,487.68 569.30,487.93 569.55,485.91 567.53,486.16 567.78,484.15 566.33,483.83" fill="none" stroke="#111" stroke-width="1.3" stroke-linejoin="miter"/>
<polyline points="572.44,488.59 572.70,487.13 570.75,486.59 571.75,484.82 569.79,484.28 570.79,482.51 569.57,481.66" fill="none" stroke="#111" stroke-width="1.3" stroke-linejoin="miter"/>
<polyline points="573.40,488.40 574.20,487.15 572.60,485.90 574.20,484.65 572.60,483.40 574.20,482.15 573.40,480.90" fill="none" stroke="#111" stroke-width="1.3" stroke-linejoin="miter"/>
<polyline points="574.36,488.59 575.57,487.74 574.57,485.97 576.53,485.43 575.53,483.66 577.49,483.12 577.23,481.66" fill="none" stroke="#111" stroke-width="1.3" stroke-linejoin="miter"/>
<polyline points="575.17,489.13 576.62,488.81 576.37,486.80 578.39,487.05 578.14,485.03 580.15,485.28 580.47,483.83" fill="none" stroke="#111" stroke-width="1.3" stroke-linejoin="miter"/>
<polyline points="575.71,489.94 577.17,490.20 577.71,488.25 579.48,489.25 580.02,487.29 581.79,488.29 582.64,487.07" fill="none" stroke="#111" stroke-width="1.3" stroke-linejoin="miter"/>
<circle cx="572.5" cy="483.09999999999997" r="2.6" fill="url(#gball)"/>
<circle cx="567.4" cy="496.9" r="2.6" fill="url(#gball)"/>
<circle cx="579.8" cy="496.4" r="2.6" fill="url(#gball)"/>
<text x="9.29" y="555.50" font-size="11.43" font-weight="normal" font-style="normal" fill="#222" stroke="#222" stroke-width="0.22" >R</text>
<text x="29.2" y="558.6" font-size="10" fill="#222" text-anchor="middle" stroke="#222" stroke-width="0.22">*</text>
<polyline points="32,554.5 43.4,547.2 54.8,554 67.3,547.2 78.7,554 90.2,547.2 99.5,554" fill="none" stroke="#222" stroke-width="1" stroke-linejoin="round"/>
<line x1="89.70" y1="546.20" x2="90.70" y2="546.20" stroke="#222" stroke-width="0.8"/>
<line x1="89.35" y1="544.50" x2="91.05" y2="544.50" stroke="#222" stroke-width="0.8"/>
<line x1="89.00" y1="542.80" x2="91.40" y2="542.80" stroke="#222" stroke-width="0.8"/>
<line x1="88.65" y1="541.10" x2="91.75" y2="541.10" stroke="#222" stroke-width="0.8"/>
<line x1="88.30" y1="539.40" x2="92.10" y2="539.40" stroke="#222" stroke-width="0.8"/>
<text x="87.2" y="534.7" font-size="10" fill="#222" stroke="#222" stroke-width="0.22">NH<tspan font-size="7" dy="2.6">3</tspan><tspan dy="-2.6">Cl</tspan></text>
<text x="90.5" y="527" font-size="7" fill="#222" text-anchor="middle" stroke="#222" stroke-width="0.22">+</text>
<line x1="115.6" y1="525.4" x2="119.2" y2="525.4" stroke="#222" stroke-width="0.8"/>
<text x="98.98" y="556.50" font-size="10.35" font-weight="normal" font-style="normal" fill="#222" stroke="#222" stroke-width="0.22" >COOH</text>
<text x="43.88" y="577.30" font-size="10.30" font-weight="normal" font-style="normal" fill="#222" stroke="#222" stroke-width="0.22" ><tspan font-weight="normal" font-style="normal">(</tspan><tspan font-weight="normal" font-style="italic">S</tspan><tspan font-weight="normal" font-style="normal">)-PMAL-</tspan><tspan font-weight="normal" font-style="italic">b</tspan><tspan font-weight="normal" font-style="normal">-PSt</tspan></text>
<text x="127.4" y="544.9" font-size="10.6" fill="#222" stroke="#222" stroke-width="0.22">or</text>
<text x="142.6" y="558.6" font-size="10" fill="#222" text-anchor="middle" stroke="#222" stroke-width="0.22">*</text>
<polyline points="146,554 157.4,547.2 168.8,554 181.3,547.2 192.7,554 205.2,547.2 213.5,554" fill="none" stroke="#222" stroke-width="1" stroke-linejoin="round"/>
<polygon points="205.2,547.2 203.9,538.6 206.5,538.6" fill="#222"/>
<text x="202" y="534.1" font-size="10" fill="#222" stroke="#222" stroke-width="0.22">NH<tspan font-size="7" dy="2.6">3</tspan><tspan dy="-2.6">Cl</tspan></text>
<text x="205.3" y="526.4" font-size="7" fill="#222" text-anchor="middle" stroke="#222" stroke-width="0.22">+</text>
<line x1="230.6" y1="525" x2="234.2" y2="525" stroke="#222" stroke-width="0.8"/>
<text x="212.49" y="555.50" font-size="10.28" font-weight="normal" font-style="normal" fill="#222" stroke="#222" stroke-width="0.22" >COOH</text>
<text x="158.88" y="577.30" font-size="10.36" font-weight="normal" font-style="normal" fill="#222" stroke="#222" stroke-width="0.22" ><tspan font-weight="normal" font-style="normal">(</tspan><tspan font-weight="normal" font-style="italic">R</tspan><tspan font-weight="normal" font-style="normal">)-PMAL-</tspan><tspan font-weight="normal" font-style="italic">b</tspan><tspan font-weight="normal" font-style="normal">-PSt</tspan></text>
<text x="247" y="544.6" font-size="10.6" fill="#222" stroke="#222" stroke-width="0.22">or</text>
<text x="259.5" y="532.2" font-size="10" fill="#222" text-anchor="middle" stroke="#222" stroke-width="0.22">*</text>
<polyline points="263.3,530.2 275.4,537.3" fill="none" stroke="#222" stroke-width="1" stroke-linejoin="round"/>
<polygon points="287.20,530.70 298.98,537.50 298.98,551.10 287.20,557.90 275.42,551.10 275.42,537.50" fill="none" stroke="#222" stroke-width="1"/>
<line x1="296.78" y1="540.76" x2="296.78" y2="547.84" stroke="#222" stroke-width="1"/>
<line x1="285.48" y1="554.36" x2="279.35" y2="550.83" stroke="#222" stroke-width="1"/>
<line x1="279.35" y1="537.77" x2="285.48" y2="534.24" stroke="#222" stroke-width="1"/>
<polyline points="299.1,551.1 311.2,557.7 322.7,551.3 322.7,543.2" fill="none" stroke="#222" stroke-width="1" stroke-linejoin="round"/>
<polygon points="322.7,551.3 330.8,553.2 329.8,556.4" fill="#222"/>
<text x="318.58" y="539.60" font-size="10.35" font-weight="normal" font-style="normal" fill="#222" stroke="#222" stroke-width="0.22" >COOH</text>
<text x="331.5" y="559.5" font-size="10" fill="#222" stroke="#222" stroke-width="0.22">NH<tspan font-size="7" dy="2.6">3</tspan><tspan dy="-2.6">Cl</tspan></text>
<text x="335.4" y="552" font-size="7" fill="#222" text-anchor="middle" stroke="#222" stroke-width="0.22">+</text>
<line x1="359.6" y1="550.4" x2="362.8" y2="550.4" stroke="#222" stroke-width="0.8"/>
<text x="278.88" y="577.30" font-size="10.33" font-weight="normal" font-style="normal" fill="#222" stroke="#222" stroke-width="0.22" ><tspan font-weight="normal" font-style="normal">(</tspan><tspan font-weight="normal" font-style="italic">S</tspan><tspan font-weight="normal" font-style="normal">)-PMPA-</tspan><tspan font-weight="normal" font-style="italic">b</tspan><tspan font-weight="normal" font-style="normal">-PSt</tspan></text>
</svg></body></html>
